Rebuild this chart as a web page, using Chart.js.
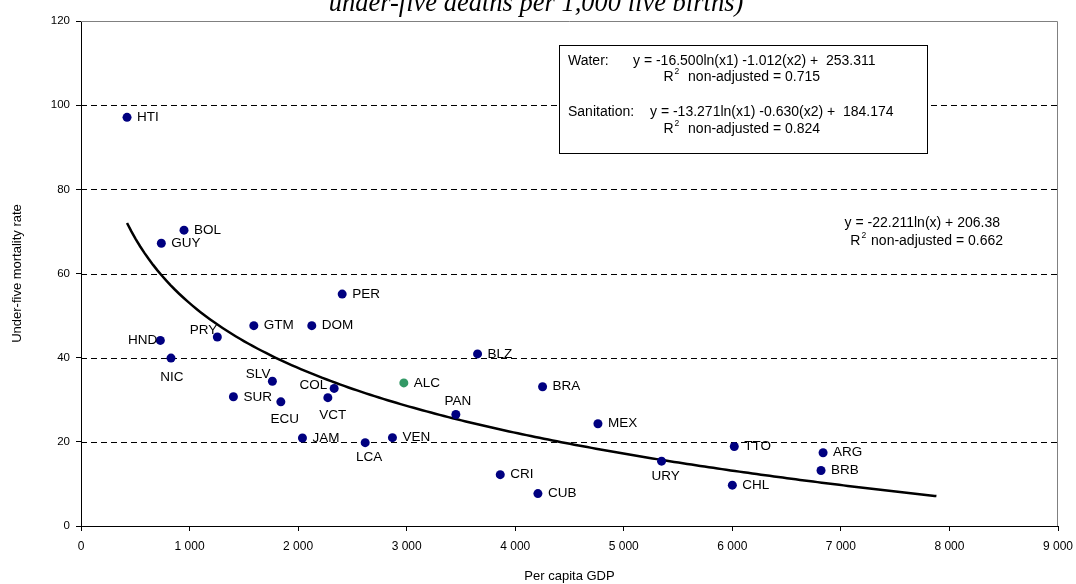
<!DOCTYPE html>
<html>
<head>
<meta charset="utf-8">
<title>Under-five mortality and per capita GDP</title>
<script src="https://cdn.jsdelivr.net/npm/chart.js@4.4.1/dist/chart.umd.min.js"></script>
<style>
  html, body { margin: 0; padding: 0; background: #fff; }
  #wrap { width: 1076px; height: 584px; }
</style>
</head>
<body>
<div id="wrap"><canvas id="chart" width="1076" height="584"></canvas></div>
<script>
// Data
const countries = ['HTI', 'BOL', 'GUY', 'PER', 'GTM', 'DOM', 'PRY', 'HND', 'NIC', 'BLZ',
  'ALC', 'SLV', 'SUR', 'ECU', 'COL', 'VCT', 'BRA', 'PAN', 'MEX', 'JAM',
  'LCA', 'VEN', 'TTO', 'ARG', 'URY', 'BRB', 'CRI', 'CHL', 'CUB'];
const gdpPerCapita = [424, 949, 740, 2406, 1592, 2126, 1256, 731, 829, 3653,
  2974, 1763, 1404, 1841, 2332, 2274, 4252, 3453, 4762, 2040,
  2618, 2869, 6018, 6836, 5348, 6817, 3862, 6000, 4209];
const under5Mortality = [97.1, 70.3, 67.2, 55.1, 47.6, 47.6, 44.9, 44.1, 39.9, 40.9,
  34.0, 34.4, 30.7, 29.5, 32.7, 30.5, 33.1, 26.5, 24.3, 20.9,
  19.8, 21.0, 18.9, 17.4, 15.4, 13.2, 12.2, 9.7, 7.7];
const highlighted = ['ALC'];

const xTicks = [0, 1000, 2000, 3000, 4000, 5000, 6000, 7000, 8000, 9000];
const yTicks = [0, 20, 40, 60, 80, 100, 120];

// Fitted curve printed on the chart: y = -22.211ln(x) + 206.38
const trendSlope = -22.211;
const trendIntercept = 206.38;
const trendFrom = 424;
const trendTo = 7880;

const FONT = "'Liberation Sans', Arial, Helvetica, sans-serif";
const NAVY = '#000080';
const GREEN = '#339966';

// Label placement (style only): [dx, dy, align]
const labelPlace = {
  HND: [-3, 0, 'right'],
  PRY: [0, -7, 'right'],
  NIC: [1, 19, 'center'],
  SLV: [-2, -7, 'right'],
  COL: [-7, -3, 'right'],
  ECU: [4, 17, 'center'],
  VCT: [5, 18, 'center'],
  LCA: [4, 15, 'center'],
  PAN: [2, -13, 'center'],
  URY: [4, 15, 'center']
};

const trendPoints = [];
for (let x = trendFrom; x <= trendTo; x += 40) {
  trendPoints.push({ x: x, y: trendSlope * Math.log(x) + trendIntercept });
}
trendPoints.push({ x: trendTo, y: trendSlope * Math.log(trendTo) + trendIntercept });

function formatThousands(v) {
  return v === 0 ? '0' : (v / 1000) + ' 000';
}

// Writes "R² <tail>" starting at x, returns the width used
function drawR2(ctx, x, y, tail, size) {
  ctx.textAlign = 'left';
  ctx.font = size + 'px ' + FONT;
  ctx.fillText('R', x, y);
  const rw = ctx.measureText('R').width;
  ctx.font = '8.5px ' + FONT;
  ctx.fillText('2', x + rw + 1, y - 5);
  const sw = ctx.measureText('2').width;
  ctx.font = size + 'px ' + FONT;
  ctx.fillText(tail, x + rw + sw + 2, y);
  return rw + sw + 2 + ctx.measureText(tail).width;
}

function r2Width(ctx, tail, size) {
  ctx.font = size + 'px ' + FONT;
  const rw = ctx.measureText('R').width + ctx.measureText(tail).width;
  ctx.font = '8.5px ' + FONT;
  return rw + ctx.measureText('2').width + 2;
}

// Dashed gridlines, plot frame and the equation texts
const backdropPlugin = {
  id: 'backdrop',
  beforeDatasetsDraw(chart) {
    const { ctx, chartArea, scales } = chart;
    ctx.save();
    ctx.strokeStyle = '#000';
    ctx.lineWidth = 1;
    ctx.setLineDash([6, 4]);
    yTicks.forEach(v => {
      if (v <= 0 || v >= 120) return;
      const y = Math.round(scales.y.getPixelForValue(v)) + 0.5;
      ctx.beginPath();
      ctx.moveTo(chartArea.left, y);
      ctx.lineTo(chartArea.right, y);
      ctx.stroke();
    });
    ctx.setLineDash([]);
    ctx.strokeStyle = '#808080';
    const top = Math.round(chartArea.top) + 0.5;
    const right = Math.round(chartArea.right) - 0.5;
    ctx.beginPath();
    ctx.moveTo(chartArea.left, top);
    ctx.lineTo(right, top);
    ctx.lineTo(right, chartArea.bottom);
    ctx.stroke();

    // Equation box
    ctx.fillStyle = '#fff';
    ctx.fillRect(559, 45, 368, 109);
    ctx.strokeStyle = '#000';
    ctx.strokeRect(559.5, 45.5, 368, 108);
    ctx.fillStyle = '#000';
    ctx.textBaseline = 'middle';
    ctx.font = '14px ' + FONT;
    ctx.textAlign = 'left';
    ctx.fillText('Water:', 568, 61);
    ctx.fillText('y = -16.500ln(x1) -1.012(x2) +  253.311', 633, 61);
    ctx.fillText('Sanitation:', 568, 112);
    ctx.fillText('y = -13.271ln(x1) -0.630(x2) +  184.174', 650, 112);
    let t = '  non-adjusted = 0.715';
    drawR2(ctx, 820 - r2Width(ctx, t, 14), 77, t, 14);
    t = '  non-adjusted = 0.824';
    drawR2(ctx, 820 - r2Width(ctx, t, 14), 129, t, 14);

    // Trend equation
    ctx.font = '14px ' + FONT;
    ctx.textAlign = 'right';
    ctx.fillText('y = -22.211ln(x) + 206.38', 1000, 223);
    t = ' non-adjusted = 0.662';
    drawR2(ctx, 1003 - r2Width(ctx, t, 14), 241, t, 14);
    ctx.restore();
  },
  afterDatasetsDraw(chart) {
    const { ctx } = chart;
    const meta = chart.getDatasetMeta(1);
    ctx.save();
    ctx.fillStyle = '#000';
    ctx.font = '13.5px ' + FONT;
    ctx.textBaseline = 'middle';
    meta.data.forEach((pt, i) => {
      const name = countries[i];
      const p = labelPlace[name] || [10, 0, 'left'];
      ctx.textAlign = p[2];
      ctx.fillText(name, pt.x + p[0], pt.y + p[1]);
    });
    ctx.restore();
  },
  afterDraw(chart) {
    // Title, cut off at the top edge as in the source image
    const { ctx } = chart;
    ctx.save();
    ctx.fillStyle = '#000';
    ctx.font = "italic 26.5px 'Liberation Serif', 'Times New Roman', serif";
    ctx.textAlign = 'center';
    ctx.textBaseline = 'alphabetic';
    ctx.fillText('under-five deaths per 1,000 live births)', 536, 11);
    ctx.restore();
  }
};

Chart.defaults.font.family = FONT;
Chart.defaults.color = '#000';

new Chart(document.getElementById('chart'), {
  data: {
    datasets: [
      {
        type: 'line',
        label: 'Log trend',
        data: trendPoints,
        borderColor: '#000',
        borderWidth: 2.5,
        pointRadius: 0,
        tension: 0,
        fill: false,
        order: 1
      },
      {
        type: 'scatter',
        label: 'Countries',
        data: countries.map((c, i) => ({ x: gdpPerCapita[i], y: under5Mortality[i] })),
        pointRadius: 4.5,
        pointBorderWidth: 0,
        pointBackgroundColor: ctx => highlighted.includes(countries[ctx.dataIndex]) ? GREEN : NAVY,
        order: 0
      }
    ]
  },
  options: {
    responsive: false,
    animation: false,
    devicePixelRatio: 1,
    layout: { padding: { left: 0, top: 21, right: 18, bottom: 0 } },
    plugins: {
      legend: { display: false },
      tooltip: { enabled: false }
    },
    scales: {
      x: {
        type: 'linear',
        min: 0,
        max: 9000,
        afterBuildTicks: s => { s.ticks = xTicks.map(v => ({ value: v })); },
        afterFit: s => { s.height = 58; s.paddingLeft = 0; s.paddingRight = 0; },
        grid: { drawOnChartArea: false, drawTicks: true, tickLength: 5, color: '#000' },
        border: { display: true, color: '#000', width: 1 },
        ticks: {
          color: '#000',
          font: { size: 12 },
          padding: 8,
          maxRotation: 0,
          autoSkip: false,
          callback: v => formatThousands(v)
        },
        title: {
          display: true,
          text: 'Per capita GDP',
          color: '#000',
          font: { size: 13 },
          padding: { top: 0, bottom: 0 }
        }
      },
      y: {
        type: 'linear',
        min: 0,
        max: 120,
        afterBuildTicks: s => { s.ticks = yTicks.map(v => ({ value: v })); },
        afterFit: s => { s.width = 81; },
        grid: { drawOnChartArea: false, drawTicks: true, tickLength: 5, color: '#000' },
        border: { display: true, color: '#000', width: 1 },
        ticks: { color: '#000', font: { size: 11.5 }, padding: 6 },
        title: {
          display: true,
          text: 'Under-five mortality rate',
          color: '#000',
          font: { size: 13 },
          padding: { top: 10, bottom: 0 }
        }
      }
    }
  },
  plugins: [backdropPlugin]
});
</script>
</body>
</html>
